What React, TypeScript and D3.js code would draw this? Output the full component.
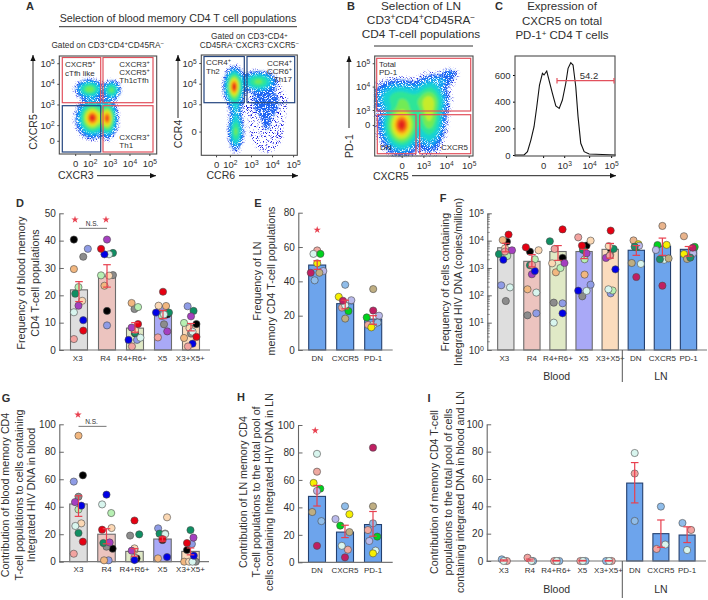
import React, { useEffect, useRef } from 'react'
import * as d3 from 'd3'

const FONT = '"Liberation Sans", Arial, sans-serif'
const TEXT = '#2f2f2f'
const RED = '#e8404f'
const GATE_RED = '#e2505c'
const GATE_BLUE = '#24457f'

// patient colours, same order as the value rows below
const bloodPatients = ['#000000', '#8f9ce6', '#8c8c8c', '#f2b77f', '#b7f0b3', '#0f8f63', '#fbd8b4', '#a53fc0', '#d8f5ee', '#0000e6', '#e60012', '#f2a3a0']
const lnPatients = ['#efa9a0', '#d8f5ee', '#00d21e', '#f7f000', '#b9b9ea', '#c01f62', '#bfae82', '#90bdea']
const lnPatientsF = ['#e9b48c', '#d8f5ee', '#00d21e', '#f7f000', '#b9b9ea', '#c01f62', '#bfae82', '#1f8f6a']
const iPatients = ['#90bdea', '#f2a3a0', '#d8f5ee']

const bloodCats = ['X3', 'R4', 'R4+R6+', 'X5', 'X3+X5+']
const lnCats = ['DN', 'CXCR5', 'PD-1']
const allCats = [...bloodCats, ...lnCats]

const bloodFills = ['#dedede', '#ecc4bf', '#e0e9c6', '#a9a9f7', '#fbdcbd']
const lnFill = '#6da4ec'
const lnFills = [lnFill, lnFill, lnFill]

// panel D
const dBars = [22, 27, 8, 14, 9]
const dErr = [[17.7, 25], [23, 31.2], [6.5, 10], [11.5, 14.5], [7, 9.7]]
const dValues = [
  [40.4, 37, 34.1, 29.6, 23, 20.6, 18, 16.2, 13.8, 10.9, 7.1, 4],
  [14.3, 9, 27.4, 23.5, 27.3, 35.5, 27.2, 40.4, 35, 35, 37, null],
  [6.1, 3.7, 15, 17.2, 15.7, 6.3, 7.3, 8.2, 4.5, 3.7, 9.5, 1.3],
  [13, 14.9, 9.4, 16.1, 12.4, 13.7, 16.2, 6.8, 13, 13.7, 21.3, 4.6],
  [9.5, 16, 6, 4.4, 9.9, 14.3, 8, 12.3, 6.7, 2.3, 4.8, 1.3],
]
const dJitter = [
  [-.3, .52, .25, -.3, -.03, -.22, .19, -.03, -.3, .25, .25, -.3],
  [0, 0, .35, -.15, -.35, .35, .12, 0, .12, -.15, -.35, 0],
  [0, .12, -.03, -.2, .18, 0, 0, -.2, .32, -.38, .18, -.18],
  [.25, 0, .06, .18, -.06, .35, -.26, .25, .06, -.41, 0, -.3],
  [.32, -.2, 0, -.41, -.41, .15, -.09, 0, .09, .09, .32, -.18],
]

// panel E
const eBars = [49.5, 27, 18]
const eErr = [[47, 52], [24, 29], [15, 20]]
const eValues = [
  [58, 56, 56, 50.5, 46, 45, 45, 40.6],
  [24.7, 26, 22.7, 31, 29, 28.7, 18.3, 38],
  [14.6, 14.6, 19, 13.2, 20, 23, 35.5, 16],
]
const eJitter = [
  [0, -.22, .19, 0, .36, -.38, .13, -.15],
  [-.19, 0, .19, -.38, .36, -.13, 0, 0],
  [-.3, 0, -.38, -.11, .34, 0, 0, .26],
]

// panel F, copies per million
const fBars = [5500, 1750, 4000, 4000, 4800, 4450, 6300, 4800]
const fErr = [[3900, 8000], [1100, 3100], [1900, 6600], [2200, 4800], [2300, 7900], [2900, 6600], [2900, 12400], [2700, 6100]]
const fBloodValues = [
  [9100, 233, 62, 10500, 2750, 3240, 5200, 4450, 195, 2000, 16600, 4000],
  [3970, 22, 18.6, 166, 2080, 1260, 4450, 590, 126, 776, 5700, 1300],
  [2340, 51, 54, 695, 1000, 9500, 1480, 1520, 10, 22, 25800, 4960],
  [6600, 245, 92, 572, 2080, 4570, 10000, 3450, 145, 148, 6600, 13200],
  [4800, 118, null, 3000, 150, 5000, 6300, 2340, 166, 890, 23300, 2800],
]
const fBloodJitter = [
  [.07, -.28, 0, -.19, .09, -.42, -.05, .38, .26, -.15, .17, -.05],
  [-.12, .27, -.27, -.27, .18, -.12, .41, 0, .27, .18, -.37, 0],
  [.28, .28, -.26, -.13, .15, -.5, -.36, .4, -.26, .28, .28, -.21],
  [.15, .4, -.11, .03, .03, -.07, .4, .15, .15, -.36, -.13, -.36],
  [.05, .03, 0, 0, .15, .21, -.09, -.26, -.11, .32, .03, -.03],
]
const fLnValues = [
  [10200, 1410, 5700, 7400, 6500, 468, 1520, 6000],
  [34500, 2000, 6900, 7000, 4570, 225, 2240, 2090],
  [14500, 2500, 5900, 3240, 3470, 5500, 2140, 2400],
]
const fLnJitter = [
  [-.17, .28, 0, .13, .17, 0, -.28, -.1],
  [0, .11, -.3, .26, -.4, 0, .38, -.15],
  [-.28, .11, .38, -.28, .28, .26, -.09, .11],
]

// panel G
const gBars = [42, 20, 7.5, 16.5, 7.5]
const gErr = [[33, 48], [13, 24], [4, 9.5], [15, 18], [5, 10]]
const gValues = [
  [62.9, 58.3, 47.3, 91.7, 38, 20.9, 27.9, 43.4, 26, 40.8, 14.6, 5.8],
  [9.5, 1, 10.9, 1, 35.4, 13.6, 24.5, 14, 41.7, 48.8, 23.3, null],
  [2.4, 1.6, 19, 8.5, null, 19.9, 9.7, 8, 2.8, 1.2, 30, null],
  [15.8, 24.3, 20.5, 2.4, null, 20.4, 32.3, null, 20, 3.4, 16.5, null],
  [8.5, 12.9, 0, 0, null, 23, 0, 17.5, 0, 4.4, 13.6, null],
]
const gJitter = [
  [.25, -.27, 0, 0, 0, 0, .16, -.2, -.18, .16, .25, -.27],
  [.35, .12, 0, -.14, .27, -.18, .29, .18, -.25, 0, -.25, 0],
  [.12, 0, -.25, 0, 0, .27, 0, -.16, 0, 0, 0, 0],
  [0, -.25, .15, -.26, 0, -.17, .26, 0, .15, .26, 0, 0],
  [-.2, .08, .3, -.36, 0, 0, -.08, .17, .11, .19, -.2, 0],
]

// panel H
const hBars = [48, 22, 27.5]
const hErr = [[41, 56], [18, 27], [19, 37]]
const hValues = [
  [66, 79, 53.6, 57.8, 52, 12, 36.6, 30],
  [9.2, 12, 26.7, 35, 31.5, 3.6, 22, 40.8],
  [23.5, 8.5, 18.7, 6.5, 15.5, 83.5, 40.8, 28.4],
]
const hJitter = [
  [0, 0, .19, -.2, 0, 0, -.28, .26],
  [.17, -.19, -.28, .26, -.56, 0, .26, 0],
  [-.3, .15, .25, 0, -.22, 0, 0, 0],
]

// panel I
const iBars = [0, 0, 0, 0, 0, 57, 20, 19]
const iErr = [[0, .8], [0, 1.4], [0, .4], [0, .4], [0, .3], [42.5, 72], [10, 30], [13.5, 25]]
const iValues = [
  [1.2, 0, 0], [0, 2.4, 0], [0, 0, 0], [0, 0, 0], [0, 0, 0],
  [29.3, 64, 79], [39.8, 8.8, 12], [27.8, 22.7, 8],
]
const iJitter = [
  [-.12, .2, 0], [.2, -.15, .1], [.2, -.12, .04], [.2, -.12, .04], [-.15, .2, .04],
  [0, 0, 0], [0, -.27, .27], [-.29, .25, 0],
]

// panel C histogram: display position, count
const histX = [-1.24, -.84, -.69, -.54, -.4, -.28, -.16, -.03, .04, .16, .26, .41, .56, .71, .85, 1, 1.1, 1.22, 1.32, 1.44, 1.54, 1.66, 1.81, 2.03, 3.2]
const histY = [0, 0, 25, 112, 212, 362, 525, 612, 600, 630, 562, 462, 368, 350, 412, 538, 650, 692, 675, 512, 288, 88, 25, 8, 0]

// flow plots: populations as [x, y, sx, sy, weight] in decades
const aLeftPops = [
  [2, 3.74, .3, .2, .5], [3.1, 3.7, .2, .2, .42],
  [2.13, 2.35, .32, .38, 1], [2.9, 2.33, .2, .38, .9],
]
const aRightPops = [
  [2.2, 3.85, .19, .38, 1], [3.35, 4.1, .38, .22, .42], [2.28, 1.68, .15, .4, .42],
  [2.28, 2.8, .15, .4, .12], [3.75, 1.9, .6, .9, .03], [3.7, 3.2, .6, .45, .04],
]
const bPops = [
  [2.04, 2.36, .32, .42, 1], [3.25, 2.8, .26, .55, .42], [1.92, 3.5, .45, .3, .18],
  [3.25, 3.42, .32, .28, .24], [2.6, 3.3, .4, .3, .1], [3.3, 3.95, .3, .18, .04], [3.76, 4.25, .28, .14, .025], [4.15, 4.55, .18, .1, .02],
]
const jetStops = ['#1c1ce0', '#1c6cf5', '#12b4f0', '#18e0c8', '#3ce878', '#a8ee30', '#f2e81e', '#f8a818', '#f2501a', '#e0201a']
const densityLevels = [.012, .03, .07, .14, .25, .38, .52, .66, .78, .88, .96]

function rich(sel: any, str: string, supScale = .7) {
  sel.text(null)
  const parts = str.split(/\^\{(.*?)\}/)
  let raised = false
  parts.forEach((part: string, i: number) => {
    if (!part) return
    const isSup = i % 2 === 1
    const ts = sel.append('tspan').text(part)
    if (isSup) ts.attr('font-size', `${supScale}em`).attr('dy', '-0.45em')
    else if (raised) ts.attr('dy', `${.45 * supScale}em`)
    raised = isSup
  })
}

function label(g: any, x: number, y: number, str: string, size: number, anchor = 'start', weight = 'normal') {
  const t = g.append('text').attr('x', x).attr('y', y).attr('font-size', size)
    .attr('text-anchor', anchor).attr('font-weight', weight).attr('fill', TEXT)
  rich(t, str)
  return t
}

function vLabel(g: any, x: number, y: number, str: string, size: number) {
  const t = g.append('text').attr('transform', `translate(${x},${y}) rotate(-90)`)
    .attr('font-size', size).attr('text-anchor', 'middle').attr('fill', TEXT)
  rich(t, str)
  return t
}

function arrow(g: any, x1: number, y1: number, x2: number, y2: number) {
  g.append('line').attr('x1', x1).attr('y1', y1).attr('x2', x2).attr('y2', y2)
    .attr('stroke', '#222').attr('stroke-width', 1)
  const a = Math.atan2(y2 - y1, x2 - x1) * 180 / Math.PI
  g.append('path').attr('d', 'M0,0L-6,-2.6L-6,2.6Z').attr('fill', '#111')
    .attr('transform', `translate(${x2},${y2}) rotate(${a})`)
}

function flowAxes(g: any, x: any, y: any, xTicks: any[], yTicks: any[]) {
  const [x0, x1] = x.range()
  const [y1, y0] = y.range()
  const ax = g.append('g').attr('transform', `translate(0,${y1})`)
    .call(d3.axisBottom(x).tickValues(xTicks.map(d => d[1])).tickSize(2).tickPadding(4).tickSizeOuter(0))
  const ay = g.append('g').attr('transform', `translate(${x0},0)`)
    .call(d3.axisLeft(y).tickValues(yTicks.map(d => d[1])).tickSize(2).tickPadding(2.5).tickSizeOuter(0))
  ;[[ax, xTicks], [ay, yTicks]].forEach(([a, t]: any) => {
    a.select('.domain').remove()
    a.selectAll('line').attr('stroke', '#444')
    a.selectAll('text').attr('font-size', 9.5).attr('font-family', FONT).attr('fill', TEXT)
      .each(function (this: any, _: any, i: number) { rich(d3.select(this), t[i][0]) })
  })
  g.append('rect').attr('x', x0).attr('y', y0).attr('width', x1 - x0).attr('height', y1 - y0)
    .attr('fill', 'none').attr('stroke', '#4a4a4a').attr('stroke-width', 1.1)
}

function density(g: any, x: any, y: any, pops: number[][], gamma = 1) {
  const n = 70
  const grid = new Array(n * n)
  const [xa, xb] = x.domain()
  const [ya, yb] = y.domain()
  for (let j = 0; j < n; j++) for (let i = 0; i < n; i++) {
    const vx = xa + (i + .5) / n * (xb - xa)
    const vy = yb + (j + .5) / n * (ya - yb)
    grid[j * n + i] = d3.sum(pops, p => p[4] * Math.exp(-(((vx - p[0]) / p[2]) ** 2 + ((vy - p[1]) / p[3]) ** 2) / 2))
  }
  const peak = d3.max(grid) as number
  const color = d3.scaleLinear<string>().domain(d3.range(jetStops.length).map(i => i / (jetStops.length - 1))).range(jetStops)
  const [x0, x1] = x.range()
  const [y1, y0] = y.range()
  const proj = d3.geoTransform({
    point(this: any, px: number, py: number) {
      this.stream.point(x0 + px / n * (x1 - x0), y0 + py / n * (y1 - y0))
    },
  })
  const path = d3.geoPath(proj)
  const layers = d3.contours().size([n, n]).thresholds(densityLevels.map(l => (l ** gamma) * peak))(grid)
  const sparse = g.append('g').attr('filter', 'url(#sparse)')
  const outer = g.append('g').attr('filter', 'url(#speckle)')
  const inner = g.append('g').attr('filter', 'url(#soft)')
  layers.forEach((c: any, i: number) => {
    const layer = i === 0 ? sparse : i < 3 ? outer : inner
    layer.append('path').attr('d', path(c)).attr('fill', color(i / (layers.length - 1)))
  })
}

function gates(g: any, rects: any[]) {
  rects.forEach(([xa, ya, xb, yb, col]) => {
    g.append('rect').attr('x', xa).attr('y', ya).attr('width', xb - xa).attr('height', yb - ya)
      .attr('fill', 'none').attr('stroke', col).attr('stroke-width', 1.2)
  })
}

function barPanel(svg: any, o: any) {
  const g = svg.append('g')
  const n = o.cats.length
  const x = d3.scaleBand().domain(o.cats).range([o.c0 - o.step / 2, o.c0 - o.step / 2 + o.step * n])
    .paddingInner(1 - o.barW / o.step).paddingOuter((1 - o.barW / o.step) / 2)
  const y = o.y
  const base = y.range()[0]

  g.append('g').selectAll('rect').data(o.bars).join('rect')
    .attr('x', (_: any, i: number) => x(o.cats[i]))
    .attr('y', (d: number) => y(d)).attr('width', x.bandwidth())
    .attr('height', (d: number) => d > 0 ? base - y(d) : 0)
    .attr('fill', (_: any, i: number) => o.fills[i])
    .attr('stroke', (_: any, i: number) => i >= o.lnFrom ? '#24406f' : '#6c6c6c')
    .attr('stroke-width', 1.1)
    .attr('display', (d: number) => d > 0 ? null : 'none')

  const axB = g.append('g').attr('transform', `translate(0,${base})`)
    .call(d3.axisBottom(x).tickSize(0).tickPadding(o.xPad ?? 5))
  axB.select('.domain').remove()
  axB.selectAll('text').attr('font-size', 8).attr('font-family', FONT).attr('fill', TEXT)
    .attr('dx', (_: any, i: number) => o.tickShift ? o.tickShift[i] : 0)
  g.append('line').attr('x1', o.axisX).attr('x2', o.axisEnd).attr('y1', base).attr('y2', base)
    .attr('stroke', '#777').attr('stroke-width', 1.2)

  const axL = g.append('g').attr('transform', `translate(${o.axisX},0)`)
    .call(d3.axisLeft(y).tickValues(o.yTicks).tickSize(-4.5).tickSizeOuter(0).tickPadding(3.5)
      .tickFormat((d: any) => `${d}`))
  axL.select('.domain').attr('stroke', '#666').attr('stroke-width', 1.1)
  axL.selectAll('line').attr('stroke', '#666')
  axL.selectAll('text').attr('font-size', 10).attr('font-family', FONT).attr('fill', TEXT)
  if (o.log) {
    axL.selectAll('text').each(function (this: any, d: any) { rich(d3.select(this), `10^{${Math.log10(d)}}`) })
    g.selectAll('.minor').data(y.ticks().filter((d: number) => !o.yTicks.includes(d))).join('line')
      .attr('class', 'minor').attr('x1', o.axisX).attr('x2', o.axisX + 2.5)
      .attr('y1', (d: number) => y(d)).attr('y2', (d: number) => y(d)).attr('stroke', '#666').attr('stroke-width', .7)
  }

  o.values.forEach((row: (number | null)[], c: number) => {
    const cx = x(o.cats[c])! + x.bandwidth() / 2
    const pal = Array.isArray(o.colors[0]) ? o.colors[c] : o.colors
    row.forEach((v, p) => {
      if (v === null) return
      g.append('circle').attr('cx', cx + o.jitter[c][p] * x.bandwidth()).attr('cy', y(v)).attr('r', 3.6)
        .attr('fill', pal[p]).attr('stroke', '#4a4a4a').attr('stroke-width', .6)
    })
  })

  o.err.forEach(([lo, hi]: number[], c: number) => {
    const cx = x(o.cats[c])! + x.bandwidth() / 2
    const e = g.append('g').attr('stroke', RED).attr('stroke-width', 1.2).attr('fill', 'none')
    e.append('line').attr('x1', cx).attr('x2', cx).attr('y1', y(lo)).attr('y2', y(hi))
    ;[lo, hi].forEach(v => e.append('line').attr('x1', cx - 3.8).attr('x2', cx + 3.8).attr('y1', y(v)).attr('y2', y(v)))
  })

  ;(o.stars ?? []).forEach(([c, v, dx]: [string, number, number]) => {
    g.append('path').attr('d', d3.symbol(d3.symbolStar, 17)())
      .attr('transform', `translate(${x(c)! + x.bandwidth() / 2 + dx},${y(v)})`).attr('fill', RED)
  })

  if (o.ns) {
    const [a, b, v] = o.ns
    const xa = x(a)! + x.bandwidth() / 2
    const xb = x(b)! + x.bandwidth() / 2
    g.append('line').attr('x1', xa).attr('x2', xb).attr('y1', y(v)).attr('y2', y(v)).attr('stroke', '#666').attr('stroke-width', .9)
    g.append('text').attr('x', (xa + xb) / 2 - 1).attr('y', y(v) - 2.2).attr('text-anchor', 'middle')
      .attr('font-size', 6.5).attr('fill', TEXT).text('N.S.')
  }
  return { g, x, y }
}

export default function App() {
  const ref = useRef<SVGSVGElement | null>(null)

  useEffect(() => {
    const svg = d3.select(ref.current)
    svg.selectAll('*').remove()
    svg.attr('font-family', FONT)

    const defs = svg.append('defs')
    const soft = defs.append('filter').attr('id', 'soft')
    soft.append('feGaussianBlur').attr('stdDeviation', .9)
    const grain = (id: string, offset: number) => {
      const sp = defs.append('filter').attr('id', id).attr('x', '-5%').attr('y', '-5%').attr('width', '110%').attr('height', '110%')
      sp.append('feGaussianBlur').attr('in', 'SourceGraphic').attr('stdDeviation', 1).attr('result', 'b')
      sp.append('feTurbulence').attr('type', 'fractalNoise').attr('baseFrequency', 1.2).attr('numOctaves', 2).attr('seed', 3).attr('result', 'n')
      sp.append('feColorMatrix').attr('in', 'n').attr('type', 'matrix')
        .attr('values', `0 0 0 0 0 0 0 0 0 0 0 0 0 0 0 0 0 0 7 ${offset}`).attr('result', 'm')
      sp.append('feComposite').attr('in', 'b').attr('in2', 'm').attr('operator', 'in')
    }
    grain('speckle', -2.4)
    grain('sparse', -3.9)

    // panel A
    const top = svg.append('g')
    label(top, 30, 10, 'A', 11, 'middle', 'bold')
    label(top, 178, 21.7, 'Selection of blood memory CD4 T cell populations', 10.7, 'middle')
    top.append('line').attr('x1', 59).attr('x2', 297).attr('y1', 26.7).attr('y2', 26.7).attr('stroke', '#333')
    label(top, 107.7, 48, 'Gated on CD3^{+}CD4^{+}CD45RA^{−}', 8.3, 'middle')
    label(top, 249.3, 39.3, 'Gated on CD3^{+}CD4^{+}', 8.3, 'middle')
    label(top, 249.3, 48, 'CD45RA^{−}CXCR3^{−}CXCR5^{−}', 8.3, 'middle')

    const alx = d3.scaleLinear().domain([.47, 5.37]).range([59.3, 156.7])
    const aly = d3.scaleLinear().domain([.6, 5.35]).range([154, 56])
    density(top, alx, aly, aLeftPops)
    gates(top, [
      [62.3, 57.5, 100.7, 102.7, GATE_RED], [103, 57.5, 153, 102.7, GATE_RED],
      [62.3, 105.7, 100.7, 152, GATE_BLUE], [103, 105.7, 153, 152, GATE_RED],
    ])
    flowAxes(top, alx, aly, [['0', 1.27], ['10^{2}', 2], ['10^{3}', 3], ['10^{4}', 4], ['10^{5}', 5]],
      [['0', 1.24], ['10^{2}', 2], ['10^{3}', 3], ['10^{4}', 4], ['10^{5}', 5]])
    label(top, 65, 66.7, 'CXCR5^{+}', 8)
    label(top, 65, 76, 'cTfh like', 8)
    label(top, 119.3, 66.7, 'CXCR3^{+}', 8)
    label(top, 119.3, 74.7, 'CXCR5^{+}', 8)
    label(top, 119.3, 83, 'Th1cTfh', 8)
    label(top, 119.3, 140, 'CXCR3^{+}', 8)
    label(top, 119.3, 148, 'Th1', 8)
    vLabel(top, 37, 132, 'CXCR5', 10.5)
    arrow(top, 33, 113, 33, 55)
    label(top, 58, 179, 'CXCR3', 10.5)
    arrow(top, 97, 175.7, 156, 175.7)

    const arx = d3.scaleLinear().domain([.64, 5.2]).range([201.3, 297.3])
    const ary = d3.scaleLinear().domain([.53, 5.39]).range([155.3, 55])
    density(top, arx, ary, aRightPops)
    gates(top, [[204, 56.5, 244.3, 102.7, GATE_BLUE], [247, 56.5, 294.7, 102.7, GATE_BLUE]])
    flowAxes(top, arx, ary, [['0', 1.34], ['10^{2}', 2], ['10^{3}', 3], ['10^{4}', 4], ['10^{5}', 5]],
      [['0', 1.68], ['10^{3}', 3], ['10^{4}', 4], ['10^{5}', 5]])
    label(top, 206, 65, 'CCR4^{+}', 8)
    label(top, 206, 74, 'Th2', 8)
    label(top, 292, 65.7, 'CCR4^{+}', 8, 'end')
    label(top, 292, 74, 'CCR6^{+}', 8, 'end')
    label(top, 292, 81.7, 'Th17', 8, 'end')
    vLabel(top, 182, 134, 'CCR4', 10.5)
    arrow(top, 178, 118, 178, 55)
    label(top, 206.5, 179, 'CCR6', 10.5)
    arrow(top, 239, 175.7, 298, 175.7)

    // panel B
    label(top, 351, 10, 'B', 11, 'middle', 'bold')
    label(top, 421, 10, 'Selection of LN', 11.8, 'middle')
    label(top, 421, 24, 'CD3^{+}CD4^{+}CD45RA^{−}', 11.8, 'middle')
    label(top, 421, 38.3, 'CD4 T-cell populations', 11.8, 'middle')
    top.append('line').attr('x1', 374).attr('x2', 473).attr('y1', 46).attr('y2', 46).attr('stroke', '#333')
    const bx = d3.scaleLinear().domain([.85, 5.19]).range([374.7, 473])
    const by = d3.scaleLinear().domain([1.03, 5.31]).range([156, 56])
    density(top, bx, by, bPops, 1.5)
    gates(top, [
      [376.7, 58.3, 470.7, 111, GATE_RED], [377.3, 114.7, 416, 153.7, GATE_RED], [419.7, 114.7, 470.7, 153.7, GATE_RED],
    ])
    flowAxes(top, bx, by, [['0', 2.04], ['10^{3}', 3], ['10^{4}', 4], ['10^{5}', 5]],
      [['0', 2.36], ['10^{3}', 3], ['10^{4}', 4], ['10^{5}', 5]])
    label(top, 379, 66.7, 'Total', 8)
    label(top, 379, 75, 'PD-1', 8)
    label(top, 380, 150.3, 'DN', 8)
    label(top, 468, 150.3, 'CXCR5', 8, 'end')
    vLabel(top, 353, 146, 'PD-1', 10.5)
    arrow(top, 349, 128, 349, 56)
    label(top, 373, 179.5, 'CXCR5', 10.5)
    arrow(top, 412, 175.7, 616, 175.7)

    // panel C
    label(top, 499, 10, 'C', 11, 'middle', 'bold')
    label(top, 562, 10, 'Expression of', 11.5, 'middle')
    label(top, 562, 24.7, 'CXCR5 on total', 11.5, 'middle')
    label(top, 562, 39.3, 'PD-1^{+} CD4 T cells', 11.5, 'middle')
    const cx = d3.scaleLinear().domain([-1.24, 3.17]).range([515, 615])
    const cy = d3.scaleLinear().domain([0, 750]).range([155, 55])
    top.append('path').datum(d3.zip(histX, histY))
      .attr('d', d3.line().x((d: any) => cx(d[0])).y((d: any) => cy(d[1])) as any)
      .attr('fill', 'none').attr('stroke', '#111').attr('stroke-width', 1.1)
    const cax = top.append('g').attr('transform', 'translate(0,156)')
      .call(d3.axisBottom(cx).tickValues([0, .93, 2.03, 3]).tickSize(2).tickPadding(4).tickSizeOuter(0))
    cax.selectAll('text').attr('font-size', 9.5).attr('font-family', FONT).attr('fill', TEXT)
      .each(function (this: any, _: any, i: number) { rich(d3.select(this), ['0', '10^{3}', '10^{4}', '10^{5}'][i]) })
    const cay = top.append('g').attr('transform', 'translate(515,0)')
      .call(d3.axisLeft(cy).tickValues([0, 200, 400, 600]).tickSize(2).tickPadding(2.5).tickSizeOuter(0))
    cay.selectAll('text').attr('font-size', 9.5).attr('font-family', FONT).attr('fill', TEXT)
    ;[cax, cay].forEach(a => a.select('.domain').remove())
    top.append('rect').attr('x', 515).attr('y', 56).attr('width', 100).attr('height', 100)
      .attr('fill', 'none').attr('stroke', '#4a4a4a').attr('stroke-width', 1.1)
    top.append('line').attr('x1', 557).attr('x2', 614).attr('y1', 80.7).attr('y2', 80.7).attr('stroke', GATE_RED).attr('stroke-width', 1.2)
    ;[557, 614].forEach(px => top.append('line').attr('x1', px).attr('x2', px).attr('y1', 78).attr('y2', 83.5).attr('stroke', GATE_RED).attr('stroke-width', 1.2))
    label(top, 589, 79, '54.2', 9.5, 'middle')

    // panel D
    const yD = d3.scaleLinear().domain([0, 50]).range([350, 213.3])
    barPanel(svg, {
      cats: bloodCats, bars: dBars, err: dErr, values: dValues, jitter: dJitter, colors: bloodPatients, fills: bloodFills,
      lnFrom: 99, c0: 79, step: 28, barW: 17, axisX: 59.3, axisEnd: 210, y: yD, yTicks: [0, 10, 20, 30, 40, 50],
      stars: [['X3', 47.7, -4], ['R4', 47.7, -1]], ns: ['X3', 'R4', 44.5], tickShift: [-1.3, -1.6, -3, -.7, -.7],
    })
    label(svg, 20, 206.7, 'D', 11, 'middle', 'bold')
    vLabel(svg, 25.3, 283, 'Frequency of blood memory', 10.7)
    vLabel(svg, 38.7, 283, 'CD4 T-cell populations', 10.7)

    // panel E
    barPanel(svg, {
      cats: lnCats, bars: eBars, err: eErr, values: eValues, jitter: eJitter, colors: lnPatients, fills: lnFills,
      lnFrom: 0, c0: 317.2, step: 28, barW: 17, axisX: 298.3, axisEnd: 392.7,
      y: d3.scaleLinear().domain([0, 80]).range([350, 212.7]), yTicks: [0, 20, 40, 60, 80], stars: [['DN', 70, 0]],
    })
    label(svg, 258, 206.7, 'E', 11, 'middle', 'bold')
    vLabel(svg, 260.7, 281, 'Frequency of LN', 10.7)
    vLabel(svg, 274.7, 281, 'memory CD4 T-cell populations', 10.7)

    // panel F
    const fValues = [...fBloodValues, ...fLnValues]
    const fColors = [...fBloodValues.map(() => bloodPatients), ...fLnValues.map(() => lnPatientsF)]
    barPanel(svg, {
      cats: allCats, bars: fBars, err: fErr, values: fValues, jitter: [...fBloodJitter, ...fLnJitter], colors: fColors,
      fills: [...bloodFills, ...lnFills], lnFrom: 5, c0: 505.8, step: 26.1, barW: 16.3, axisX: 487.3, axisEnd: 707,
      y: d3.scaleLog().domain([1, 1e5]).range([350, 213.3]), yTicks: [1, 10, 100, 1000, 10000, 100000], log: true,
      tickShift: [-1.5, 0, 0, -.5, 0, -.5, 0, 0],
    })
    label(svg, 443, 201.7, 'F', 11, 'middle', 'bold')
    vLabel(svg, 448.7, 282, 'Frequency of cells containing', 10.7)
    vLabel(svg, 462, 282, 'Integrated HIV DNA (copies/million)', 10.7)
    svg.append('line').attr('x1', 622.3).attr('x2', 622.3).attr('y1', 350).attr('y2', 382).attr('stroke', '#555')
    label(svg, 556.7, 380, 'Blood', 10.5, 'middle')
    label(svg, 661, 380, 'LN', 10.5, 'middle')

    // panel G
    barPanel(svg, {
      cats: bloodCats, bars: gBars, err: gErr, values: gValues, jitter: gJitter, colors: bloodPatients, fills: bloodFills,
      lnFrom: 99, c0: 78.5, step: 28, barW: 17.5, axisX: 59.3, axisEnd: 209, xPad: 4.5,
      y: d3.scaleLinear().domain([0, 100]).range([561.7, 424.3]), yTicks: [0, 20, 40, 60, 80, 100],
      stars: [['X3', 107, -.5]], ns: ['X3', 'R4', 98.5],
    })
    label(svg, 6, 402, 'G', 11, 'middle', 'bold')
    vLabel(svg, 8.7, 495, 'Contribution of blood memory CD4', 10.7)
    vLabel(svg, 22.7, 495, 'T-cell populations to cells containing', 10.7)
    vLabel(svg, 34.7, 495, 'Integrated HIV DNA in blood', 10.7)

    // panel H
    barPanel(svg, {
      cats: lnCats, bars: hBars, err: hErr, values: hValues, jitter: hJitter, colors: lnPatients, fills: lnFills,
      lnFrom: 0, c0: 317, step: 28, barW: 17, axisX: 298, axisEnd: 392.7, xPad: 5,
      y: d3.scaleLinear().domain([0, 100]).range([562.3, 425]), yTicks: [0, 20, 40, 60, 80, 100], stars: [['DN', 96, -1.8]],
    })
    label(svg, 241, 401, 'H', 11, 'middle', 'bold')
    vLabel(svg, 246.7, 492, 'Contribution of LN memory CD4', 10.7)
    vLabel(svg, 260, 492, 'T-cell populations to the total pool of', 10.7)
    vLabel(svg, 273.3, 492, 'cells containing Integrated HIV DNA in LN', 10.7)

    // panel I
    barPanel(svg, {
      cats: allCats, bars: iBars, err: iErr, values: iValues, jitter: iJitter, colors: iPatients,
      fills: [...bloodFills, ...lnFills], lnFrom: 5, c0: 503.7, step: 26.2, barW: 16, axisX: 486.7, axisEnd: 706, xPad: 6,
      y: d3.scaleLinear().domain([0, 100]).range([561, 424.3]), yTicks: [0, 20, 40, 60, 80, 100],
    })
    label(svg, 429, 402, 'I', 11, 'middle', 'bold')
    vLabel(svg, 437.7, 492, 'Contribution of memory CD4 T-cell', 10.7)
    vLabel(svg, 451.7, 492, 'populations to the total pool of cells', 10.7)
    vLabel(svg, 464, 492, 'containing integrated DNA in blood and LN', 10.7)
    svg.append('line').attr('x1', 622.3).attr('x2', 622.3).attr('y1', 561).attr('y2', 598).attr('stroke', '#555')
    label(svg, 556.7, 593, 'Blood', 10.5, 'middle')
    label(svg, 661, 593, 'LN', 10.5, 'middle')
  }, [])

  return <svg ref={ref} width={708} height={600} style={{ position: 'absolute', left: 0, top: 0, background: '#fff' }} />
}
